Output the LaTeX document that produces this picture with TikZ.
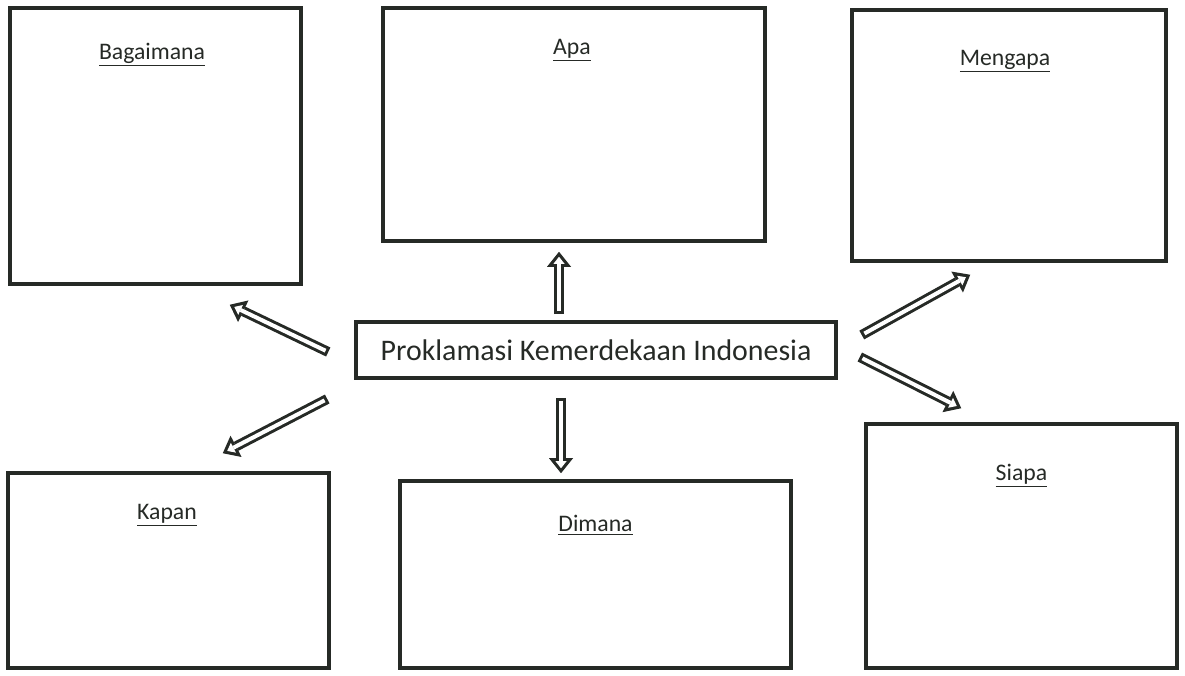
\documentclass[tikz,border=0pt]{standalone}
\usepackage{fontspec}
\setmainfont{Carlito}
\usetikzlibrary{arrows.meta}
\definecolor{ink}{RGB}{38,42,38}
\tikzset{
    box/.style={draw=ink, line width=2pt, minimum width=#1, inner sep=0pt},
    lbl/.style={anchor=base, font=\fontsize{13.5}{15}\selectfont, text=ink},
    hollow/.style={draw=ink, line width=0.2cm,
        -{Triangle[length=0.3cm, width=0.48cm, line width=0pt]},
        postaction={draw=white, line width=0.08cm, shorten <=0.06cm, shorten >=0.1cm,
            -{Triangle[length=0.14cm, width=0.22cm, line width=0pt]}}}
}
\begin{document}
\begin{tikzpicture}
    \useasboundingbox (0, 0) rectangle (23.7, 13.5);

    \node[box=5.82cm, minimum height=5.52cm] (bag) at (3.11, 10.58) {};
    \node[box=7.64cm, minimum height=4.66cm] (apa) at (11.48, 11.01) {};
    \node[box=6.28cm, minimum height=5.02cm] (meng) at (20.18, 10.79) {};
    \node[box=6.42cm, minimum height=3.9cm] (kap) at (3.37, 2.09) {};
    \node[box=7.82cm, minimum height=3.74cm] (dim) at (11.91, 2.01) {};
    \node[box=6.22cm, minimum height=4.88cm] (siap) at (20.43, 2.58) {};

    \node[box=9.6cm, minimum height=1.12cm, font=\fontsize{17}{19}\selectfont, text=ink] (pk) at (11.92, 6.5) {Proklamasi Kemerdekaan Indonesia};

    \node[lbl] (bagl) at ([xshift=-0.07cm, yshift=-1.06cm]bag.north) {\underline{Bagaimana}};
    \node[lbl] (apal) at ([xshift=-0.04cm, yshift=-0.96cm]apa.north) {\underline{Apa}};
    \node[lbl] (mengl) at ([xshift=-0.08cm, yshift=-1.14cm]meng.north) {\underline{Mengapa}};
    \node[lbl] (kapl) at ([xshift=-0.03cm, yshift=-0.96cm]kap.north) {\underline{Kapan}};
    \node[lbl] (diml) at ([yshift=-1.04cm]dim.north) {\underline{Dimana}};
    \node[lbl] (siapl) at ([yshift=-1.16cm]siap.north) {\underline{Siapa}};

    \draw[hollow] ([xshift=-0.74cm, yshift=0.12cm]pk.north) -- ([xshift=-0.3cm, yshift=-0.18cm]apa.south);
    \draw[hollow] ([xshift=-0.7cm, yshift=-0.36cm]pk.south) -- ([xshift=-0.69cm, yshift=0.12cm]dim.north);
    \draw[hollow] ([xshift=-0.52cm, yshift=-0.04cm]pk.west) -- ([xshift=-1.46cm, yshift=-0.38cm]bag.south east);
    \draw[hollow] ([xshift=-0.54cm, yshift=-0.98cm]pk.west) -- ([xshift=-2.16cm, yshift=0.36cm]kap.north east);
    \draw[hollow] ([xshift=0.48cm, yshift=0.3cm]pk.east) -- ([xshift=2.4cm, yshift=-0.24cm]meng.south west);
    \draw[hollow] ([xshift=0.44cm, yshift=-0.14cm]pk.east) -- ([xshift=1.94cm, yshift=0.28cm]siap.north west);
\end{tikzpicture}
\end{document}
